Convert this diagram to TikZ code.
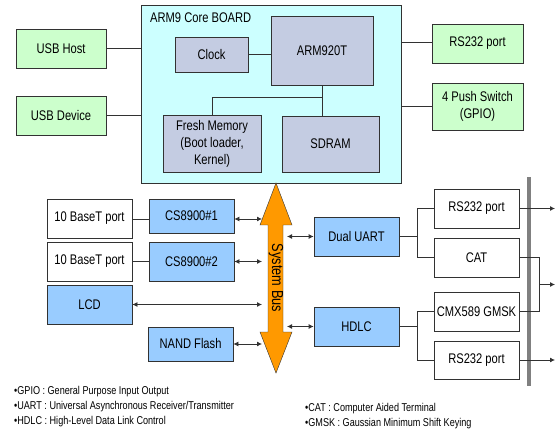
\documentclass[tikz,border=0pt]{standalone}
\usepackage{fontspec}
\setmainfont[FakeStretch=0.8]{Liberation Sans}
\usetikzlibrary{arrows.meta}
\definecolor{boardcol}{RGB}{204,255,255}
\definecolor{chipcol}{RGB}{196,204,226}
\definecolor{portcol}{RGB}{204,255,204}
\definecolor{unitcol}{RGB}{153,204,255}
\definecolor{buscol}{RGB}{255,153,0}
\definecolor{linecol}{RGB}{50,50,50}
\begin{document}
\begin{tikzpicture}[x=1bp,y=-1bp,
    font=\fontsize{14}{17}\selectfont,
    box/.style={draw=linecol,line width=0.8bp,inner sep=0pt,align=center},
    chip/.style={box,fill=chipcol},
    port/.style={box,fill=portcol,minimum width=90bp,minimum height=39bp},
    unit/.style={box,fill=unitcol,minimum width=85bp,minimum height=39bp},
    plain/.style={box,fill=white,minimum width=85bp,minimum height=39bp},
    wire/.style={draw=linecol,line width=0.8bp},
    bidir/.style={wire,{Latex[length=5bp,width=5bp]}-{Latex[length=5bp,width=5bp]}},
    outdir/.style={wire,-{Latex[length=5bp,width=5bp]}},
    note/.style={anchor=west,inner sep=0pt,font=\fontsize{11.4}{13}\selectfont}]
    \useasboundingbox (0,0) rectangle (557,434);
    % core board
    \node[box,fill=boardcol,minimum width=260bp,minimum height=178bp] (board) at (271,94) {};
    \node[anchor=west,inner sep=0pt] (boardname) at (150,18) {ARM9 Core BOARD};
    \node[chip,minimum width=73bp,minimum height=35bp] (clock) at (211.5,54.5) {Clock};
    \node[chip,minimum width=102bp,minimum height=69bp] (cpu) at (322,51) {ARM920T};
    \node[chip,minimum width=98bp,minimum height=57bp] (flash) at (212,143.5) {Fresh Memory\\(Boot loader,\\Kernel)};
    \node[chip,minimum width=97bp,minimum height=56bp] (sdram) at (330.5,144) {SDRAM};
    \coordinate (tap) at (322,97);
    \draw[wire] (clock) -- (clock -| cpu.west);
    \draw[wire] (cpu.south) -- (sdram.north -| cpu.south);
    \draw[wire] (tap) -| (flash.north);
    % outside ports
    \node[port] (host) at (61,48.5) {USB Host};
    \node[port] (device) at (61,115.5) {USB Device};
    \node[port,minimum width=91bp] (rsa) at (477.5,43.5) {RS232 port};
    \node[port,minimum width=91bp,minimum height=47bp] (push) at (477.5,106.5) {4 Push Switch\\(GPIO)};
    \draw[wire] (host) -- (host -| board.west);
    \draw[wire] (device) -- (device -| board.west);
    \draw[wire] (board.east |- 0,42) -- (rsa.west |- 0,42);
    \draw[wire] (board.east |- push) -- (push);
    % system bus
    \fill[buscol,draw=linecol,line width=0.4bp] (276,183) -- (292,225) -- (283,225) -- (283,332)
        -- (292,332) -- (276,373) -- (260,332) -- (268,332) -- (268,225) -- (260,225) -- cycle;
    \node[rotate=-90,inner sep=0pt,font=\fontsize{16}{18}\selectfont] (busname) at (276,278) {System Bus};
    \coordinate (busl) at (262,0);
    \coordinate (busr) at (287,0);
    % left side
    \node[plain] (baseta) at (89.5,218.5) {10 BaseT port};
    \node[unit,minimum height=34bp] (csa) at (191.5,216) {CS8900\#1};
    \node[plain] (basetb) at (89.5,261.5) {10 BaseT port};
    \node[unit] (csb) at (191.5,261.5) {CS8900\#2};
    \node[unit] (lcd) at (89.5,304.5) {LCD};
    \node[unit,minimum height=34bp] (nand) at (190.5,344) {NAND Flash};
    \draw[wire] (baseta.east |- 0,219) -- (csa.west |- 0,219);
    \draw[wire] (basetb) -- (csb);
    \draw[bidir] (csa.east |- 0,219) -- (busl |- 0,219);
    \draw[bidir] (csb) -- (csb -| busl);
    \draw[bidir] (lcd) -- (lcd -| busl);
    \draw[bidir] (nand) -- (nand -| busl);
    % right side
    \node[unit] (uart) at (356.5,236.5) {Dual UART};
    \node[unit] (hdlc) at (356.5,326.5) {HDLC};
    \draw[bidir] (busr |- uart) -- (uart);
    \draw[bidir] (busr |- hdlc) -- (hdlc);
    \fill[gray] (527,177) rectangle (531,386);
    \node[plain] (rsb) at (476.5,208.5) {RS232 port};
    \node[plain] (cat) at (476.5,257.5) {CAT};
    \node[plain] (cmx) at (476.5,311.5) {CMX589 GMSK};
    \node[plain,minimum height=38bp] (rsc) at (476.5,360) {RS232 port};
    \coordinate (split) at (417,0);
    \coordinate (merge) at (539,284.5);
    \coordinate (outx) at (555,0);
    \draw[wire] (uart) -- (uart -| split) |- (rsb);
    \draw[wire] (uart -| split) |- (cat);
    \draw[wire] (hdlc) -- (hdlc -| split) |- (cmx);
    \draw[wire] (hdlc -| split) |- (rsc);
    \draw[wire] (cat) -| (merge) |- (cmx);
    \draw[outdir] (rsb) -- (rsb -| outx);
    \draw[outdir] (merge) -- (merge -| outx);
    \draw[outdir] (rsc) -- (rsc -| outx);
    % notes
    \node[note] (ngpio) at (14,392) {•GPIO : General Purpose Input Output};
    \node[note] (nuart) at (14,407) {•UART : Universal Asynchronous Receiver/Transmitter};
    \node[note] (nhdlc) at (14,422) {•HDLC : High-Level Data Link Control};
    \node[note] (ncat) at (305,409) {•CAT : Computer Aided Terminal};
    \node[note] (ngmsk) at (305,424) {•GMSK : Gaussian Minimum Shift Keying};
\end{tikzpicture}
\end{document}
